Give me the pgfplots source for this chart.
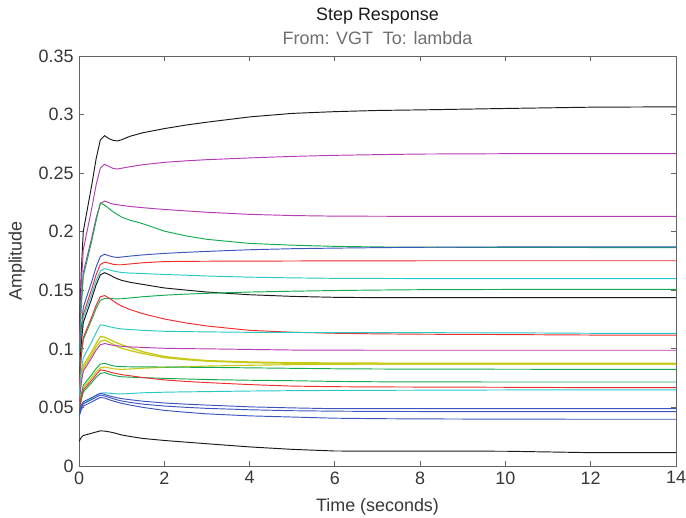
\documentclass[border=0pt]{standalone}
\usepackage{fontspec}
\setmainfont{Liberation Sans}
\usepackage{pgfplots}
\usepackage{pgfplotstable}
\pgfplotsset{compat=1.18}
\definecolor{mlk}{RGB}{25,25,25}
\definecolor{mlm}{RGB}{180,60,180}
\definecolor{mlg}{RGB}{20,170,80}
\definecolor{mlb}{RGB}{60,85,190}
\definecolor{mlr}{RGB}{240,45,45}
\definecolor{mlc}{RGB}{40,200,200}
\definecolor{mly}{RGB}{200,200,25}
\definecolor{axisgray}{RGB}{100,100,100}
\definecolor{labgray}{RGB}{55,55,55}
\definecolor{subgray}{RGB}{110,110,110}
\pgfplotstableread{
t c1 c2 c3 c4 c5 c6 c7 c8 c9 c10 c11 c12 c13 c14 c15 c16 c17 c18 c19 c20 c21 c22 c23
0 0.100 0.095 0.090 0.085 0.080 0.075 0.075 0.070 0.065 0.065 0.058 0.052 0.055 0.053 0.045 0.046 0.043 0.044 0.042 0.046 0.044 0.042 0.021
0.05 0.1637 0.1519 0.1378 0.1338 0.1153 0.1097 0.1077 0.1033 0.0923 0.0934 0.0799 0.0704 0.0744 0.0721 0.0588 0.0606 0.0558 0.0573 0.0492 0.0516 0.0498 0.0478 0.0242
0.1 0.2001 0.1844 0.1651 0.1617 0.1354 0.1295 0.1264 0.1223 0.1079 0.1096 0.0924 0.0809 0.0855 0.0830 0.0667 0.0689 0.0632 0.0649 0.0533 0.0548 0.0531 0.0511 0.0260
0.2 0.2201 0.2023 0.1801 0.1771 0.1466 0.1403 0.1367 0.1327 0.1165 0.1185 0.0993 0.0867 0.0917 0.0890 0.0711 0.0735 0.0672 0.0691 0.0556 0.0566 0.0549 0.0529 0.0270
0.3 0.2401 0.2201 0.1951 0.1924 0.1576 0.1512 0.1470 0.1432 0.1251 0.1274 0.1061 0.0924 0.0977 0.0950 0.0754 0.0781 0.0713 0.0733 0.0578 0.0584 0.0567 0.0547 0.0280
0.4 0.2620 0.2397 0.2115 0.2092 0.1697 0.1631 0.1582 0.1545 0.1344 0.1371 0.1137 0.0988 0.1044 0.1016 0.0802 0.0831 0.0756 0.0778 0.0603 0.0602 0.0587 0.0567 0.0290
0.5 0.2784 0.2543 0.2238 0.2245 0.1788 0.1720 0.1666 0.1631 0.1414 0.1444 0.1205 0.1035 0.1105 0.1064 0.0837 0.0869 0.0790 0.0820 0.0621 0.0620 0.0605 0.0585 0.0300
0.6 0.2820 0.2575 0.2262 0.2228 0.1808 0.1740 0.1685 0.1650 0.1430 0.1455 0.1200 0.1045 0.1100 0.1075 0.0845 0.0877 0.0797 0.0815 0.0625 0.0612 0.0598 0.0580 0.0298
0.7 0.2795 0.2558 0.2248 0.2198 0.1795 0.1732 0.1675 0.1635 0.1430 0.1435 0.1190 0.1038 0.1083 0.1058 0.0838 0.0865 0.0785 0.0805 0.0622 0.0600 0.0586 0.0567 0.0292
0.8 0.2780 0.2540 0.2236 0.2170 0.1785 0.1722 0.1665 0.1615 0.1428 0.1410 0.1182 0.1030 0.1065 0.1040 0.0830 0.0855 0.0775 0.0795 0.0618 0.0590 0.0575 0.0555 0.0285
0.9 0.2775 0.2535 0.2230 0.2147 0.1780 0.1718 0.1658 0.1598 0.1427 0.1385 0.1175 0.1026 0.1050 0.1020 0.0827 0.0850 0.0767 0.0787 0.0616 0.0582 0.0564 0.0545 0.0275
1.0 0.2785 0.2542 0.2225 0.2125 0.1784 0.1718 0.1652 0.1585 0.1428 0.1365 0.1170 0.1022 0.1035 0.1005 0.0825 0.0848 0.0762 0.0780 0.0615 0.0575 0.0555 0.0535 0.0265
1.2 0.2815 0.2555 0.2215 0.2098 0.1792 0.1725 0.1647 0.1568 0.1435 0.1335 0.1165 0.1017 0.1010 0.0985 0.0828 0.0847 0.0758 0.0770 0.0619 0.0566 0.0543 0.0520 0.0252
1.5 0.2845 0.2572 0.2205 0.2068 0.1802 0.1735 0.1643 0.1550 0.1445 0.1300 0.1158 0.1012 0.0975 0.0960 0.0835 0.0846 0.0755 0.0755 0.0625 0.0553 0.0528 0.0500 0.0235
2 0.2880 0.2592 0.2190 0.2005 0.1815 0.1745 0.1635 0.1520 0.1458 0.1255 0.1150 0.1005 0.0935 0.0925 0.0842 0.0845 0.0748 0.0735 0.0630 0.0538 0.0512 0.0475 0.0218
2.5 0.2910 0.2605 0.2178 0.1965 0.1824 0.1747 0.1629 0.1502 0.1467 0.1222 0.1147 0.1002 0.0915 0.0908 0.0848 0.0843 0.0743 0.0722 0.0633 0.0528 0.0501 0.0459 0.0204
3 0.2935 0.2615 0.2166 0.1935 0.1832 0.1748 0.1622 0.1485 0.1474 0.1195 0.1145 0.1000 0.0900 0.0895 0.0853 0.0842 0.0738 0.0712 0.0635 0.0520 0.0492 0.0445 0.0190
4 0.2980 0.2630 0.2148 0.1900 0.1846 0.1749 0.1612 0.1462 0.1485 0.1158 0.1141 0.0995 0.0888 0.0882 0.0860 0.0838 0.0732 0.0695 0.0640 0.0505 0.0480 0.0428 0.0163
5 0.3010 0.2643 0.2138 0.1885 0.1855 0.1750 0.1606 0.1448 0.1492 0.1142 0.1140 0.0990 0.0882 0.0877 0.0865 0.0834 0.0728 0.0682 0.0643 0.0496 0.0472 0.0418 0.0142
6 0.3025 0.2652 0.2133 0.1875 0.1860 0.1751 0.1602 0.1440 0.1498 0.1133 0.1139 0.0989 0.0879 0.0873 0.0868 0.0830 0.0722 0.0677 0.0645 0.0489 0.0468 0.0408 0.0128
7 0.3035 0.2658 0.2132 0.1870 0.1864 0.1751 0.1601 0.1437 0.1502 0.1128 0.1138 0.0988 0.0878 0.0872 0.0870 0.0828 0.0719 0.0675 0.0646 0.0489 0.0466 0.0404 0.0127
8 0.3040 0.2663 0.2131 0.1868 0.1867 0.1752 0.1600 0.1437 0.1505 0.1125 0.1138 0.0988 0.0877 0.0871 0.0870 0.0827 0.0718 0.0674 0.0647 0.0489 0.0465 0.0402 0.0127
10 0.3052 0.2666 0.2131 0.1866 0.1870 0.1752 0.1600 0.1437 0.1507 0.1122 0.1137 0.0988 0.0876 0.0870 0.0870 0.0826 0.0717 0.0672 0.0649 0.0489 0.0464 0.0400 0.0126
12 0.3063 0.2667 0.2131 0.1865 0.1871 0.1752 0.1600 0.1437 0.1508 0.1118 0.1133 0.0988 0.0876 0.0870 0.0870 0.0825 0.0717 0.0669 0.0649 0.0489 0.0464 0.0399 0.0114
14 0.3066 0.2667 0.2131 0.1865 0.1871 0.1752 0.1600 0.1437 0.1508 0.1117 0.1133 0.0988 0.0876 0.0870 0.0870 0.0825 0.0717 0.0669 0.0649 0.0489 0.0464 0.0399 0.0114
}\data
\newcommand{\fs}{\fontsize{18}{20}\selectfont}
\begin{document}
\begin{tikzpicture}
\useasboundingbox (-79bp,-52bp) rectangle (607bp,466bp);
\begin{axis}[at={(0,0)},anchor=south west,scale only axis,
  width=597bp,height=410bp,
  xmin=0,xmax=14,ymin=0,ymax=0.35,
  xtick={0,2,4,6,8,10,12,14},
  xticklabels={0,2,4,6,8,10,12,14},
  ytick={0,0.05,0.1,0.15,0.2,0.25,0.3,0.35},
  yticklabels={0,0.05,0.1,0.15,0.2,0.25,0.3,0.35},
  tick align=inside, tick pos=both, major tick length=5bp,
  axis line style={draw=axisgray,line width=0.9bp},
  every tick/.style={draw=axisgray,line width=0.8bp},
  ticklabel style={font=\fs,text=labgray},
  yticklabel style={xshift=-2bp},
  xticklabel style={yshift=-2bp},
  every axis plot/.append style={line width=0.95bp,no markers},
]
\addplot[mly,line width=1.3bp] table[x=t,y=c13]{\data};
\addplot[mly,line width=1.3bp] table[x=t,y=c14]{\data};
\addplot[mly,line width=1.1bp] table[x=t,y=c15]{\data};
\addplot[mlk] table[x=t,y=c1]{\data};
\addplot[mlm] table[x=t,y=c2]{\data};
\addplot[mlm] table[x=t,y=c3]{\data};
\addplot[mlg] table[x=t,y=c4]{\data};
\addplot[mlb] table[x=t,y=c5]{\data};
\addplot[mlr] table[x=t,y=c6]{\data};
\addplot[mlc] table[x=t,y=c7]{\data};
\addplot[mlk] table[x=t,y=c8]{\data};
\addplot[mlg] table[x=t,y=c9]{\data};
\addplot[mlr] table[x=t,y=c10]{\data};
\addplot[mlc] table[x=t,y=c11]{\data};
\addplot[mlm] table[x=t,y=c12]{\data};
\addplot[mlg] table[x=t,y=c16]{\data};
\addplot[mlg] table[x=t,y=c17]{\data};
\addplot[mlr] table[x=t,y=c18]{\data};
\addplot[mlc] table[x=t,y=c19]{\data};
\addplot[mlb] table[x=t,y=c20]{\data};
\addplot[mlb] table[x=t,y=c21]{\data};
\addplot[mlb] table[x=t,y=c22]{\data};
\addplot[mlk] table[x=t,y=c23]{\data};
\end{axis}
\node[font=\fs,text=labgray] at (298.5bp,-41bp) {Time (seconds)};
\node[font=\fs,text=labgray,rotate=90] at (-62bp,205bp) {Amplitude};
\node[font=\fs,text=mlk] at (298.5bp,450bp) {Step Response};
\node[font=\fs,text=subgray] at (298.5bp,428bp) {From: VGT\ \ To: lambda};
\end{tikzpicture}
\end{document}
